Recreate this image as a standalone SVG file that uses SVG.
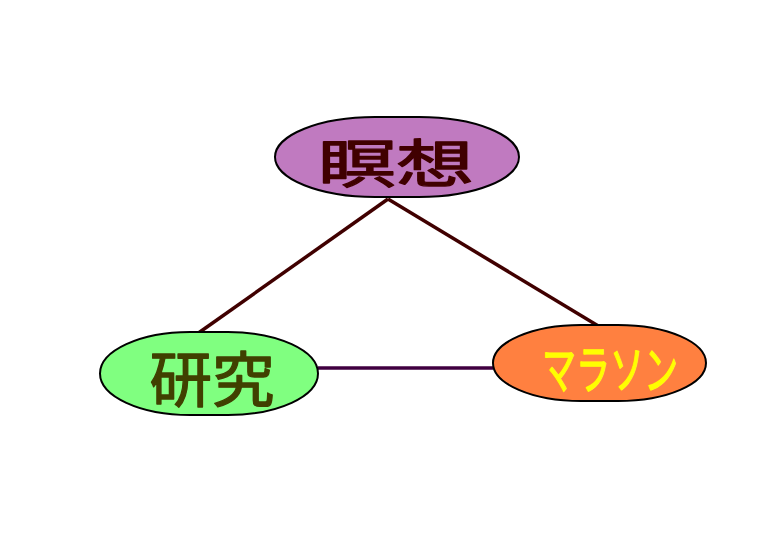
<svg xmlns="http://www.w3.org/2000/svg" width="780" height="540" viewBox="0 0 780 540">
<style>
.node{stroke:#000;stroke-width:2}
.lbl{font-family:"Noto Sans CJK JP","Noto Sans CJK SC",sans-serif;font-weight:400;text-anchor:middle;dominant-baseline:central;stroke-width:1.3;stroke-linejoin:round}
.edge{fill:none;stroke-width:3.5}
</style>
<rect width="780" height="540" fill="#fff"/>
<g id="connectors">
<line class="edge" x1="388" y1="199" x2="197" y2="334" stroke="#400000"/>
<line class="edge" x1="388" y1="199" x2="600" y2="327" stroke="#400000"/>
<line class="edge" x1="318" y1="368" x2="493" y2="368" stroke="#400040"/>
</g>
<g id="node-meiso">
<rect class="node" x="275" y="117" width="244" height="80" rx="100" ry="40" fill="#c07ac0"/>
<text class="lbl" x="396" y="160" font-size="52" textLength="156" lengthAdjust="spacingAndGlyphs" fill="#400000" stroke="#400000">瞑想</text>
</g>
<g id="node-kenkyu">
<rect class="node" x="100" y="332" width="218" height="83" rx="90" ry="41.5" fill="#80ff80"/>
<text class="lbl" x="212" y="375" font-size="60" textLength="125" lengthAdjust="spacingAndGlyphs" fill="#404000" stroke="#404000">研究</text>
</g>
<g id="node-marathon">
<rect class="node" x="493" y="325" width="213" height="76" rx="88" ry="38" fill="#ff8040"/>
<text class="lbl" x="610" y="366" font-size="52" textLength="136" lengthAdjust="spacingAndGlyphs" fill="#ffff00" stroke="#ffff00">マラソン</text>
</g>
</svg>
